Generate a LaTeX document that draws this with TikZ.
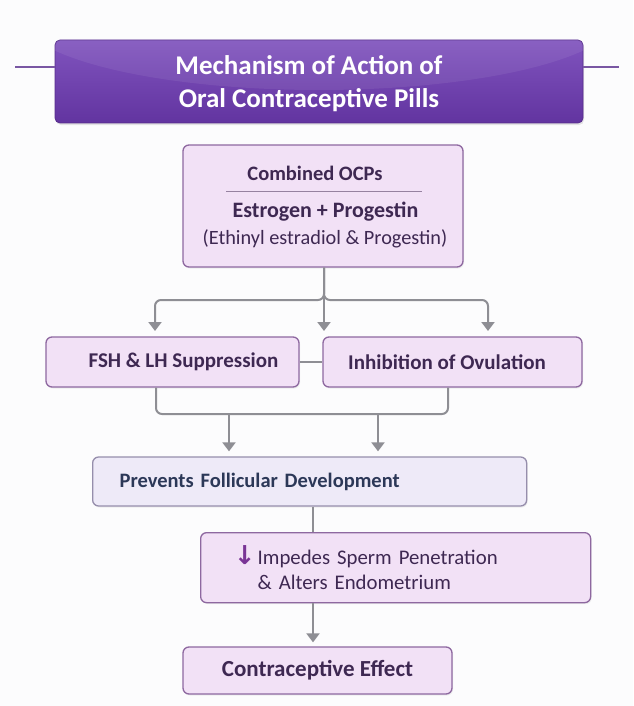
\documentclass[tikz,border=0pt]{standalone}
\usepackage{fontspec}
\setmainfont{Carlito}
\newfontfamily\symfont{DejaVu Sans}
\usetikzlibrary{arrows.meta,shadows}
\definecolor{bgc}{RGB}{252,252,253}
\definecolor{bannertop}{RGB}{128,84,190}
\definecolor{bannerbot}{RGB}{98,52,160}
\definecolor{bannerdraw}{RGB}{88,45,140}
\definecolor{boxfill}{RGB}{242,225,246}
\definecolor{boxdraw}{RGB}{142,104,160}
\definecolor{prevfill}{RGB}{238,234,248}
\definecolor{prevdraw}{RGB}{150,142,172}
\definecolor{txtc}{RGB}{62,40,82}
\definecolor{prevtxt}{RGB}{44,56,88}
\definecolor{conn}{RGB}{142,142,148}
\definecolor{downc}{RGB}{122,52,150}
\definecolor{sepc}{RGB}{150,130,160}
\tikzset{
  pbox/.style={draw=boxdraw, fill=boxfill, line width=1.3pt, rounded corners=6pt,
    text=txtc, drop shadow={opacity=0.12, shadow xshift=1pt, shadow yshift=-1.5pt}},
  prevbox/.style={draw=prevdraw, fill=prevfill, line width=1.3pt, rounded corners=6pt,
    text=prevtxt, drop shadow={opacity=0.12, shadow xshift=1pt, shadow yshift=-1.5pt}},
  conline/.style={draw=conn, line width=2pt, rounded corners=6pt},
  conarrow/.style={conline, -{Triangle[width=13pt,length=9pt]}},
}
\begin{document}
\begin{tikzpicture}[x=1pt,y=-1pt]
\fill[bgc] (0,0) rectangle (633,706);
\useasboundingbox (0,0) rectangle (633,706);
% title banner
\coordinate (tl) at (15,67);
\coordinate (tr) at (619,67);
\node[minimum width=528pt, minimum height=83pt, inner sep=0pt, rounded corners=5pt,
  top color=bannertop, bottom color=bannerbot, draw=bannerdraw, line width=0.8pt,
  drop shadow={opacity=0.2, shadow xshift=1pt, shadow yshift=-2pt}]
  (title) at (319,81.5) {};
\begin{scope}
  \clip[rounded corners=5pt] (title.south west) rectangle (title.north east);
  \fill[white, opacity=0.07] (319,15) ellipse (300pt and 75pt);
\end{scope}
\node[text=white, align=center, font=\bfseries\fontsize{27}{33}\selectfont]
  (titletext) at (309,84) {Mechanism of Action of\\Oral Contraceptive Pills};
\draw[line width=1.8pt, color=bannerdraw!80] (tl) -- (title.west |- tl);
\draw[line width=1.8pt, color=bannerdraw!80] (title.east |- tr) -- (tr);
% combined box
\node[pbox, minimum width=280pt, minimum height=122pt, inner sep=0pt] (comb) at (323,206) {};
\node[text=txtc, font=\bfseries\fontsize{20.5}{24}\selectfont] (combt) at (315,173) {Combined OCPs};
\coordinate (sepl) at (226,191);
\coordinate (sepr) at (422,191);
\draw[sepc, line width=1pt] (sepl) -- (sepr);
\node[text=txtc, font=\bfseries\fontsize{22}{24}\selectfont] (combe) at (325.5,212) {Estrogen + Progestin};
\node[text=txtc, font=\fontsize{20.3}{24}\selectfont] (combp) at (325,239) {(Ethinyl estradiol \& Progestin)};
% second row
\node[pbox, minimum width=253pt, minimum height=50pt, inner sep=0pt,
  font=\bfseries\fontsize{21}{24}\selectfont] (fsh) at (172.5,362) {\hspace*{22pt}FSH \& LH Suppression};
\node[pbox, minimum width=259pt, minimum height=50pt, inner sep=0pt,
  font=\bfseries\fontsize{21}{24}\selectfont] (inh) at (452.5,362) {Inhibition of Ovulation\hspace*{11pt}};
% prevents
\node[prevbox, anchor=west, minimum height=49pt, inner xsep=27pt, text width=380pt, align=left,
  font=\bfseries\fontsize{20.5}{24}\selectfont] (prev) at (92,481.5) {Prevents Follicular Development};
% impedes
\node[pbox, anchor=north west, minimum height=70pt, inner xsep=57pt, text width=276pt, align=left,
  font=\fontsize{20.8}{25}\selectfont] (imp) at (200,532)
  {\llap{\textcolor{downc}{\symfont\bfseries\fontsize{26}{25}\selectfont ↓}\hspace{2pt}}Impedes Sperm Penetration\\\& Alters Endometrium};
% contraceptive
\node[pbox, minimum width=269pt, minimum height=47pt, inner sep=0pt,
  font=\bfseries\fontsize{23}{26}\selectfont] (contr) at (317.5,670.5) {Contraceptive Effect};
% connectors top
\coordinate (bl) at (155,300);
\coordinate (br) at (488,300);
\coordinate (al) at (155,331);
\coordinate (ar) at (488,331);
\coordinate (am) at (324,331);
\draw[conarrow] (comb.south -| am) -- (am);
\draw[conarrow] (comb.south -| am) |- (bl) -- (al);
\draw[conarrow] (comb.south -| am) |- (br) -- (ar);
% link between fsh and inh
\draw[conline] (fsh.east) -- (inh.west);
% lower connectors
\coordinate (jl) at (156,414);
\coordinate (jr) at (448,414);
\coordinate (d1) at (229,414);
\coordinate (d2) at (378,414);
\draw[conline] (fsh.south -| jl) -- (jl) -- (jr) -- (inh.south -| jr);
\draw[conarrow, shorten >=5pt] (d1) -- (prev.north -| d1);
\draw[conarrow, shorten >=5pt] (d2) -- (prev.north -| d2);
% prevents to impedes
\coordinate (pm) at (313,0);
\draw[conline] (prev.south -| pm) -- (imp.north -| pm);
\draw[conarrow, shorten >=4pt] (imp.south -| pm) -- (contr.north -| pm);
\end{tikzpicture}
\end{document}
